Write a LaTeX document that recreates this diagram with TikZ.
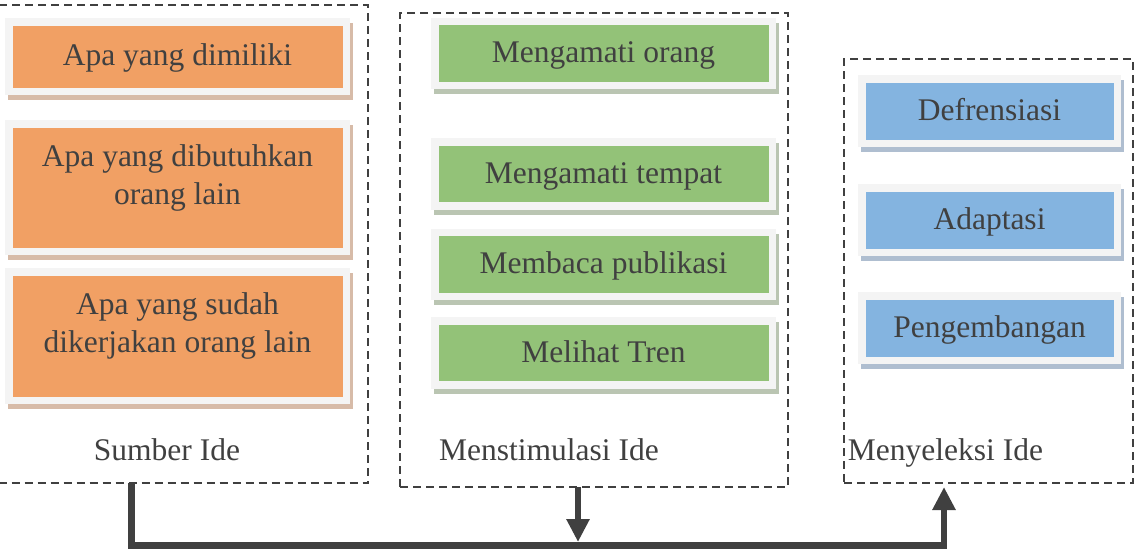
\documentclass[tikz,border=0pt]{standalone}
\usepackage{fontspec}
\setmainfont{Liberation Serif}
\usetikzlibrary{positioning, calc, arrows.meta}
\definecolor{oranye}{HTML}{F1A064}
\definecolor{oranyebayang}{HTML}{D7BBA8}
\definecolor{hijau}{HTML}{93C278}
\definecolor{hijaubayang}{HTML}{BAC5B2}
\definecolor{biru}{HTML}{84B4E0}
\definecolor{birubayang}{HTML}{AFBED0}
\definecolor{bingkai}{HTML}{F4F4F4}
\definecolor{teks}{HTML}{404040}

\begin{document}
\begin{tikzpicture}[x=1pt, y=-1pt,
  kotak/.style 2 args={rectangle, fill=#1, draw=bingkai, line width=7.5pt, preaction={draw=#2, fill=#2, transform canvas={shift={(3pt,-5pt)}}}, minimum width=337.5pt, minimum height=64pt, text height=22pt, text depth=3.5pt, align=center, text=teks, font=\fontsize{31.5}{38}\selectfont},
  kelompok/.style={rectangle, draw=teks, line width=2pt, dash pattern=on 8pt off 5pt, outer sep=0pt},
  judul/.style={anchor=base, text=teks, font=\fontsize{31.5}{38}\selectfont},
  alur/.style={draw=teks, line width=6.5pt}]

\useasboundingbox (0,0) rectangle (1140,552);

% Groups

\node [kelompok, minimum width=369.5pt, minimum height=478pt] (sumber) at (183.25,244) {};
\node [kelompok, minimum width=388pt, minimum height=474pt] (stimulasi) at (594,250) {};
\node [kelompok, minimum width=289pt, minimum height=424pt] (seleksi) at (988.5,271) {};

\node [judul] (sumbertitle) at (167,460) {Sumber Ide};
\node [judul] (stimulasititle) at (549,460) {Menstimulasi Ide};
\node [judul] (seleksititle) at (945.5,460) {Menyeleksi Ide};

% Sumber Ide

\node [kotak={oranye}{oranyebayang}, minimum height=69.5pt] (dimiliki) at (177.5,56.5) {Apa yang dimiliki};
\node [kotak={oranye}{oranyebayang}, minimum height=127.5pt, text height=60pt, text depth=27pt, below=25pt of dimiliki] (dibutuhkan)
{Apa yang dibutuhkan\\orang lain};
\node [kotak={oranye}{oranyebayang}, minimum height=128.5pt, text height=60pt, text depth=27pt, below=13pt of dibutuhkan] (dikerjakan)
{Apa yang sudah\\dikerjakan orang lain};

% Menstimulasi Ide

\node [kotak={hijau}{hijaubayang}] (orang) at (603.5,53.5) {Mengamati orang};
\node [kotak={hijau}{hijaubayang}, below=49pt of orang] (tempat) {Mengamati tempat};
\node [kotak={hijau}{hijaubayang}, below=19pt of tempat] (publikasi) {Membaca publikasi};
\node [kotak={hijau}{hijaubayang}, below=17pt of publikasi] (tren) {Melihat Tren};

% Menyeleksi Ide

\node [kotak={biru}{birubayang}, minimum width=255.5pt, minimum height=64.5pt] (defrensiasi) at (989.5,111) {Defrensiasi};
\node [kotak={biru}{birubayang}, minimum width=255.5pt, minimum height=64.5pt, below=37pt of defrensiasi] (adaptasi) {Adaptasi};
\node [kotak={biru}{birubayang}, minimum width=255.5pt, minimum height=64.5pt, below=36pt of adaptasi] (pengembangan) {Pengembangan};

% Flow

\coordinate (kiri) at (131.5,545.5);
\coordinate (kanan) at (944,545.5);

\draw[alur, -{Triangle[width=22pt, length=23pt]}, shorten >=4pt] (sumber.south -| kiri) -- (kiri) -- (kanan) -- (seleksi.south -| kanan);

\draw[alur, -{Triangle[width=22pt, length=23pt]}] ($(stimulasi.south)+(-16,0)$) -- ($(stimulasi.south)+(-16,55)$);

\end{tikzpicture}
\end{document}
